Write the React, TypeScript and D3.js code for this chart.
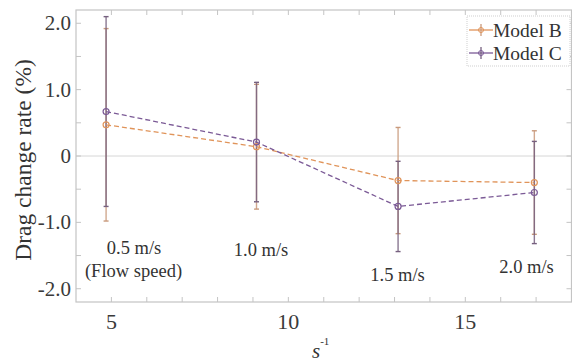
import React, { useEffect, useRef } from 'react';
import * as d3 from 'd3';

// x positions (s^-1) and flow speed labels
const xValues = [4.85, 9.1, 13.1, 16.95];
const speedLabels = ['0.5 m/s', '1.0 m/s', '1.5 m/s', '2.0 m/s'];

// Model B
const modelB = [0.47, 0.14, -0.37, -0.4];
const modelBErr = [1.45, 0.94, 0.8, 0.78];
// Model C
const modelC = [0.67, 0.21, -0.76, -0.55];
const modelCErr = [1.43, 0.9, 0.68, 0.77];

const yTicks = [-2, -1, 0, 1, 2];
const yTickLabels = ['-2.0', '-1.0', '0', '1.0', '2.0'];
const xTicks = [5, 10, 15];

const FONT = 'Liberation Serif';

const App: React.FC = () => {
  const svgRef = useRef<SVGSVGElement | null>(null);

  useEffect(() => {
    if (!svgRef.current) return;
    const width = 572;
    const height = 363;
    const margin = { top: 10, right: 0.5, bottom: 61, left: 76 };
    const svg = d3.select(svgRef.current);
    svg.selectAll('*').remove();

    const x = d3.scaleLinear().domain([4, 18]).range([margin.left, width - margin.right]);
    const y = d3.scaleLinear().domain([-2.2, 2.2]).range([height - margin.bottom, margin.top]);

    const g = svg.append('g').style('font-family', FONT);
    const frame = '#c4c4c4';

    // zero line
    g.append('line')
      .attr('x1', x(4)).attr('x2', x(18)).attr('y1', y(0)).attr('y2', y(0))
      .attr('stroke', '#d6d6d6').attr('stroke-width', 1);

    // frame
    g.append('rect')
      .attr('x', x(4)).attr('y', y(2.2))
      .attr('width', x(18) - x(4)).attr('height', y(-2.2) - y(2.2))
      .attr('fill', 'none').attr('stroke', frame).attr('stroke-width', 1.2);

    // ticks, inward
    d3.range(5, 18, 1).forEach(v => {
      g.append('line').attr('x1', x(v)).attr('x2', x(v)).attr('y1', y(-2.2)).attr('y2', y(-2.2) - 5).attr('stroke', frame);
      g.append('line').attr('x1', x(v)).attr('x2', x(v)).attr('y1', y(2.2)).attr('y2', y(2.2) + 5).attr('stroke', frame);
    });
    d3.range(-2, 2.01, 0.5).forEach(v => {
      g.append('line').attr('x1', x(4)).attr('x2', x(4) + 5).attr('y1', y(v)).attr('y2', y(v)).attr('stroke', frame);
      g.append('line').attr('x1', x(18)).attr('x2', x(18) - 5).attr('y1', y(v)).attr('y2', y(v)).attr('stroke', frame);
    });

    // tick labels
    g.selectAll('.ylab').data(yTicks).enter().append('text')
      .attr('x', x(4) - 5).attr('y', d => y(d)).attr('dy', '0.33em')
      .attr('text-anchor', 'end').style('font-family', FONT).style('font-size', '21px').attr('fill', '#3a3a3a')
      .text((d, i) => yTickLabels[i]);
    g.selectAll('.xlab').data(xTicks).enter().append('text')
      .attr('x', d => x(d)).attr('y', y(-2.2) + 27)
      .attr('text-anchor', 'middle').style('font-family', FONT).style('font-size', '22px').attr('fill', '#3a3a3a')
      .text(d => d);

    // axis titles
    g.append('text')
      .attr('transform', `translate(31, 160) rotate(-90)`)
      .attr('text-anchor', 'middle').style('font-family', FONT).style('font-size', '23.5px').attr('fill', '#333')
      .text('Drag change rate (%)');
    const xt2 = g.append('text')
      .attr('x', 312).attr('y', 358)
      .style('font-family', FONT).style('font-size', '21px').attr('fill', '#333');
    xt2.append('tspan').style('font-style', 'italic').text('s');
    xt2.append('tspan').style('font-size', '11px').attr('dy', -13).text('-1');

    const series = [
      { vals: modelB, errs: modelBErr, color: '#e0945a', bar: '#c99a7c', name: 'Model B' },
      { vals: modelC, errs: modelCErr, color: '#7b5a96', bar: '#76607f', name: 'Model C' },
    ];

    const line = d3.line<number>().x((d, i) => x(xValues[i])).y(d => y(d));

    series.forEach(s => {
      // error bars
      s.vals.forEach((v, i) => {
        const cx = x(xValues[i]);
        g.append('line').attr('x1', cx).attr('x2', cx).attr('y1', y(v + s.errs[i])).attr('y2', y(v - s.errs[i]))
          .attr('stroke', s.bar).attr('stroke-width', 1.4).attr('opacity', 0.85);
        [v + s.errs[i], v - s.errs[i]].forEach(e => {
          g.append('line').attr('x1', cx - 2.5).attr('x2', cx + 2.5).attr('y1', y(e)).attr('y2', y(e))
            .attr('stroke', s.bar).attr('stroke-width', 1.4);
        });
      });
    });

    series.forEach(s => {
      g.append('path').datum(s.vals).attr('d', line)
        .attr('fill', 'none').attr('stroke', s.color).attr('stroke-width', 1.3)
        .attr('stroke-dasharray', '5,3');
      g.selectAll(null).data(s.vals).enter().append('circle')
        .attr('cx', (d, i) => x(xValues[i])).attr('cy', d => y(d)).attr('r', 3)
        .attr('fill', 'none').attr('stroke', s.color).attr('stroke-width', 1.2);
    });

    // speed annotations
    const annPos = [
      { dx: 134, dy: 247.5 }, { dx: 261, dy: 250 }, { dx: 397.5, dy: 275 }, { dx: 526.5, dy: 267 },
    ];
    speedLabels.forEach((t, i) => {
      g.append('text').attr('x', annPos[i].dx).attr('y', annPos[i].dy).attr('dy', '0.33em')
        .attr('text-anchor', 'middle').style('font-family', FONT).style('font-size', '18.5px').attr('fill', '#333')
        .text(t);
    });
    g.append('text').attr('x', 133.5).attr('y', 271).attr('dy', '0.33em')
      .attr('text-anchor', 'middle').style('font-family', FONT).style('font-size', '18.5px').attr('fill', '#333')
      .text('(Flow speed)');

    // legend
    const lg = g.append('g').attr('transform', 'translate(467, 16)');
    lg.append('rect').attr('width', 103).attr('height', 50).attr('fill', 'white')
      .attr('stroke', '#cfcfcf').attr('stroke-dasharray', '1,1');
    series.forEach((s, i) => {
      const ly = 14 + i * 23;
      lg.append('line').attr('x1', 2).attr('x2', 26).attr('y1', ly).attr('y2', ly).attr('stroke', s.color).attr('stroke-width', 1.3);
      lg.append('line').attr('x1', 14).attr('x2', 14).attr('y1', ly - 6).attr('y2', ly + 6).attr('stroke', s.bar).attr('stroke-width', 1.3);
      lg.append('circle').attr('cx', 14).attr('cy', ly).attr('r', 2.5).attr('fill', 'none').attr('stroke', s.color);
      lg.append('text').attr('x', 26).attr('y', ly).attr('dy', '0.35em')
        .style('font-family', FONT).style('font-size', '19.5px').attr('fill', '#333').text(s.name);
    });
  }, []);

  return (
    <div style={{ position: 'absolute', left: 0, top: 0 }}>
      <svg ref={svgRef} width={572} height={363} style={{ display: 'block', background: 'white', fontFamily: FONT }} />
    </div>
  );
};

export default App;
